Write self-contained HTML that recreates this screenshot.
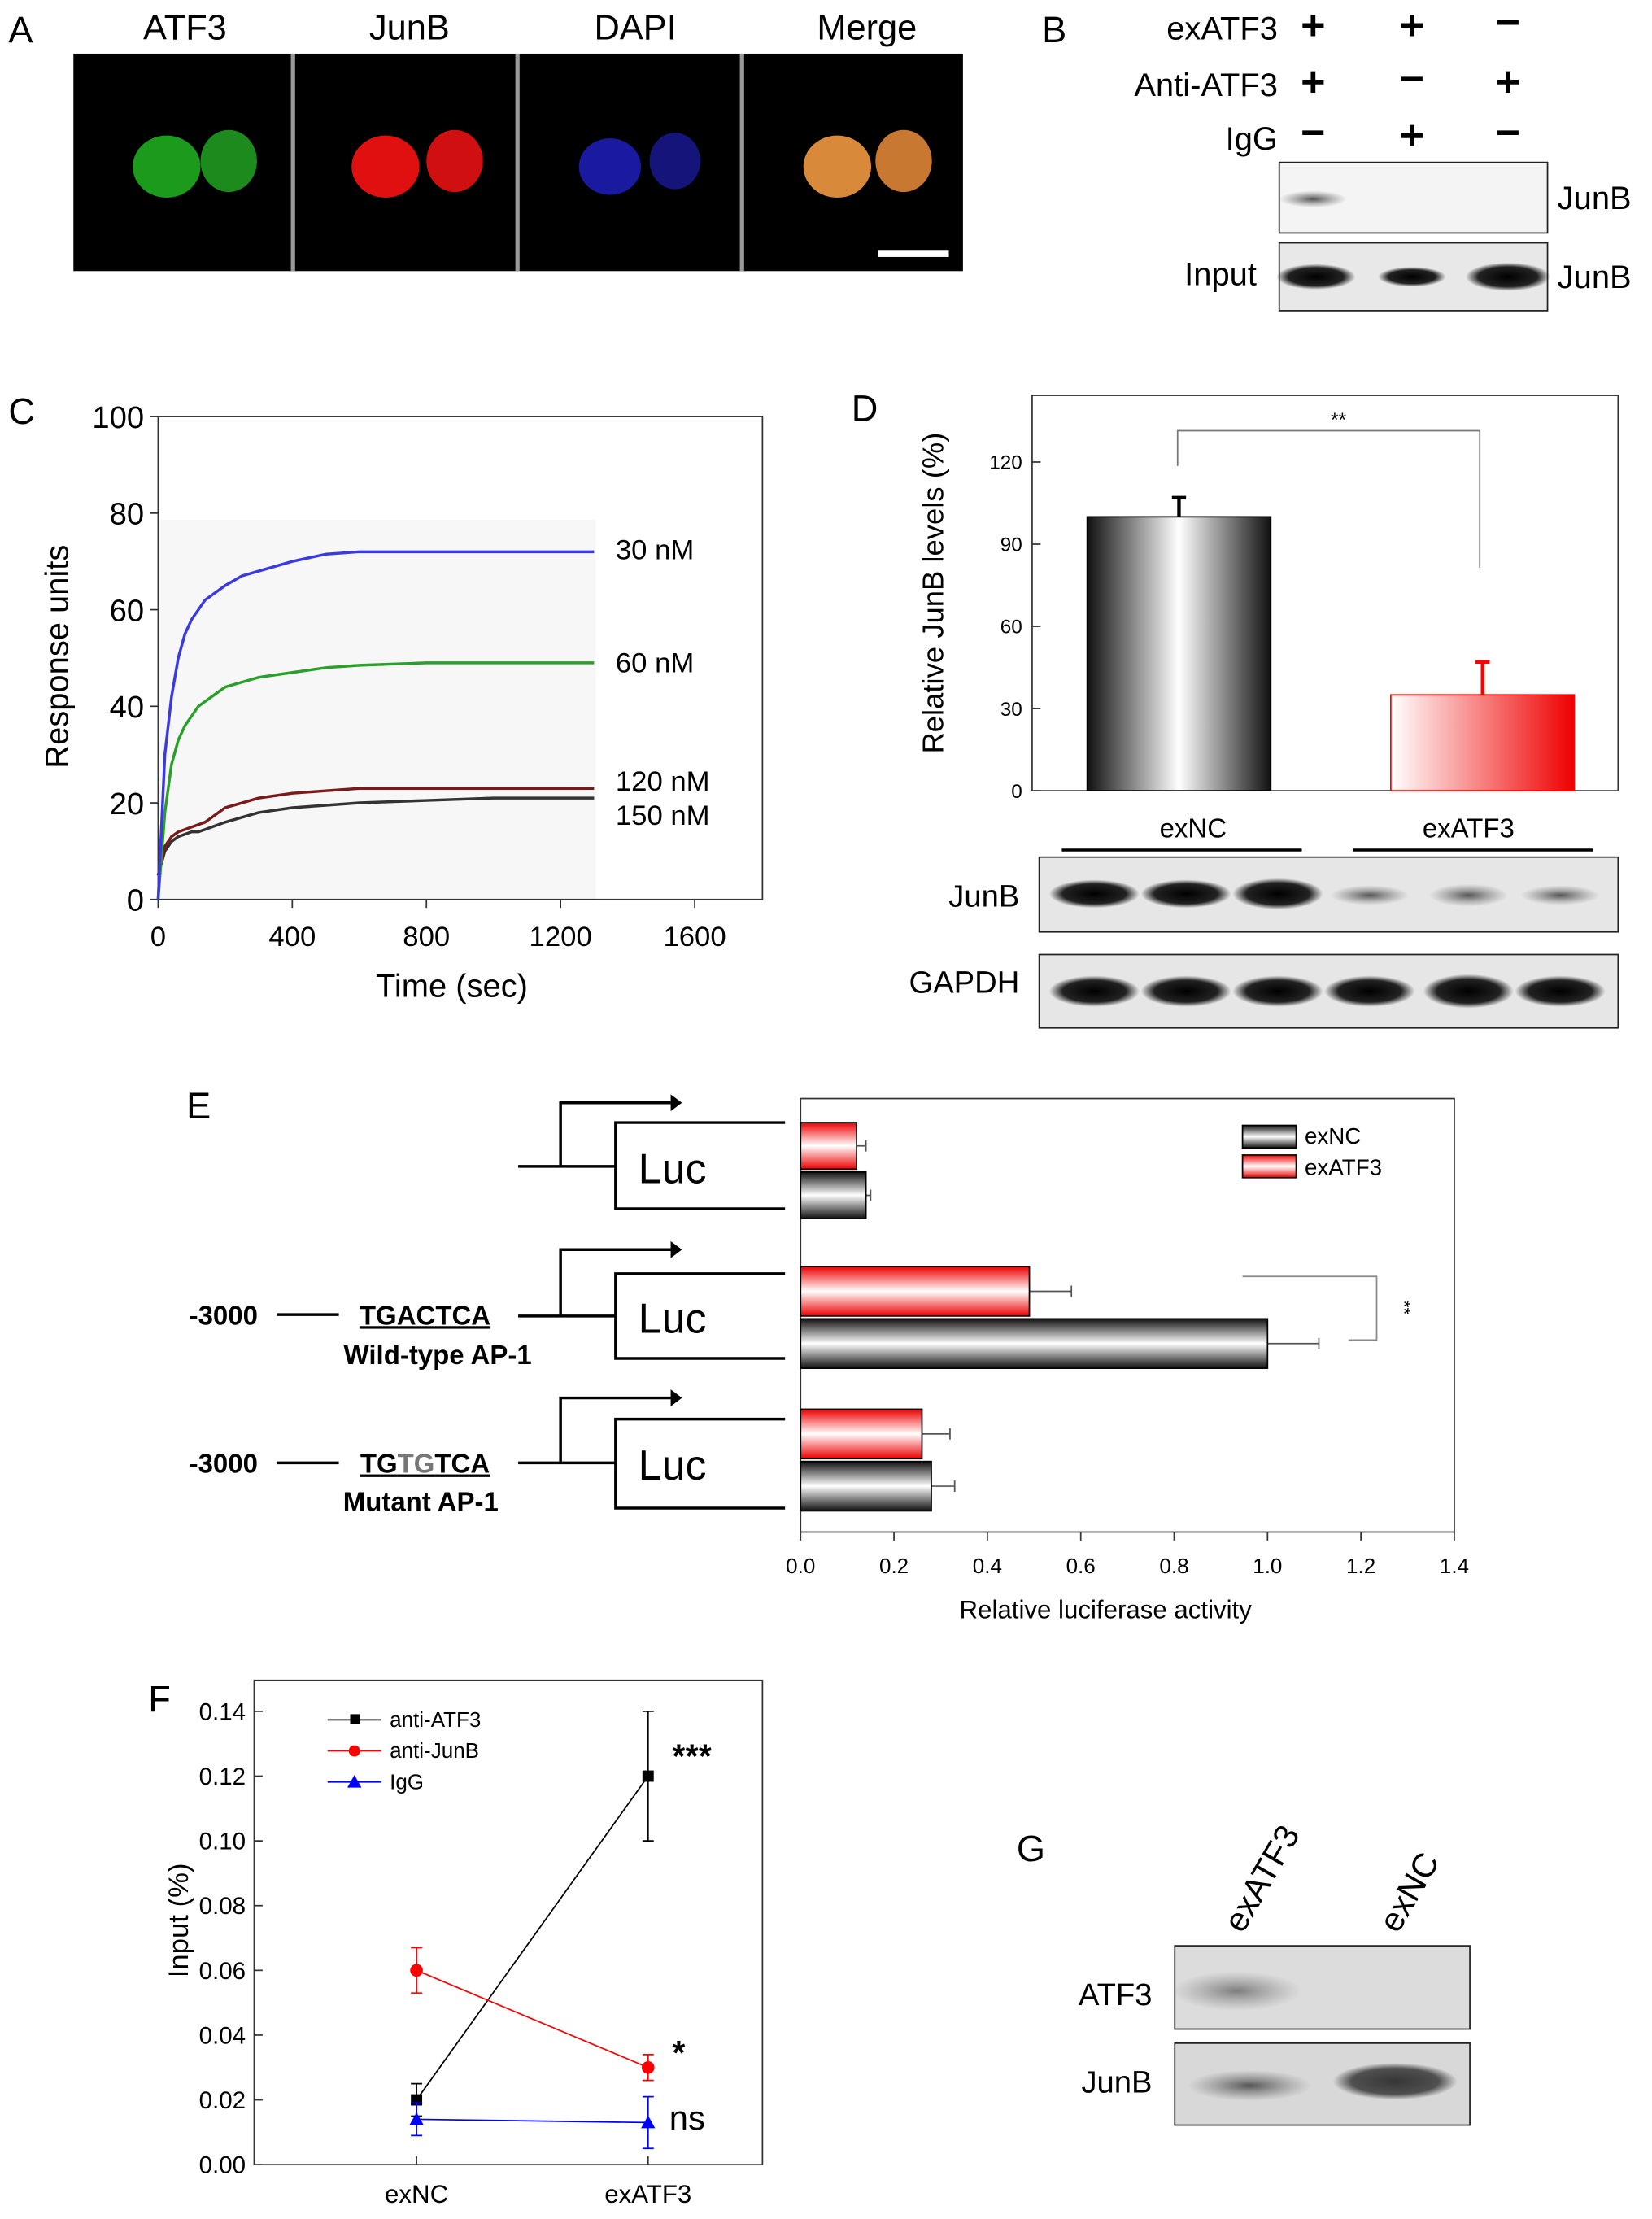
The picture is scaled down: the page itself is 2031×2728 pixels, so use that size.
<!DOCTYPE html>
<html><head><meta charset="utf-8"><style>
html,body{margin:0;padding:0;background:#fff}
svg{display:block;font-family:"Liberation Sans",sans-serif}
</style></head><body>
<svg id="fig" width="2031" height="2728" viewBox="0 0 1170 1571.5" preserveAspectRatio="none" xmlns="http://www.w3.org/2000/svg">
<defs>
<linearGradient id="gBlack" x1="0" x2="1" y1="0" y2="0"><stop offset="0" stop-color="#111"/><stop offset="0.5" stop-color="#fff"/><stop offset="1" stop-color="#111"/></linearGradient>
<linearGradient id="gRed" x1="0" x2="1" y1="0" y2="0"><stop offset="0" stop-color="#fff"/><stop offset="1" stop-color="#e00"/></linearGradient>
<linearGradient id="hBlack" x1="0" x2="0" y1="0" y2="1"><stop offset="0" stop-color="#111"/><stop offset="0.5" stop-color="#fff"/><stop offset="1" stop-color="#111"/></linearGradient>
<linearGradient id="hRed" x1="0" x2="0" y1="0" y2="1"><stop offset="0" stop-color="#e00"/><stop offset="0.5" stop-color="#fff"/><stop offset="1" stop-color="#e00"/></linearGradient>
<radialGradient id="band" cx="0.5" cy="0.5" r="0.5"><stop offset="0" stop-color="#000"/><stop offset="0.7" stop-color="#222"/><stop offset="1" stop-color="#222" stop-opacity="0"/></radialGradient>
<radialGradient id="bandL" cx="0.5" cy="0.5" r="0.5"><stop offset="0" stop-color="#555"/><stop offset="1" stop-color="#777" stop-opacity="0"/></radialGradient>
</defs>

<!-- Panel A -->
<g>
<text x="6" y="30" font-size="26">A</text>
<rect x="52" y="38" width="630" height="154" fill="#000"/>
<rect x="206" y="38" width="3" height="154" fill="#999"/><rect x="365" y="38" width="3" height="154" fill="#999"/><rect x="524" y="38" width="3" height="154" fill="#999"/>
<text x="131" y="28" font-size="25" text-anchor="middle">ATF3</text>
<text x="290" y="28" font-size="25" text-anchor="middle">JunB</text>
<text x="450" y="28" font-size="25" text-anchor="middle">DAPI</text>
<text x="614" y="28" font-size="25" text-anchor="middle">Merge</text>
<g><ellipse cx="118" cy="118" rx="24" ry="22" fill="#1c9a1c"/><ellipse cx="162" cy="114" rx="20" ry="22" fill="#1c8a1c"/></g>
<g><ellipse cx="273" cy="118" rx="24" ry="22" fill="#e01010"/><ellipse cx="322" cy="114" rx="20" ry="22" fill="#d01010"/></g>
<g><ellipse cx="432" cy="118" rx="22" ry="20" fill="#1a1aa0"/><ellipse cx="478" cy="114" rx="18" ry="20" fill="#14147a"/></g>
<g><ellipse cx="593" cy="118" rx="24" ry="22" fill="#d88a3a"/><ellipse cx="640" cy="114" rx="20" ry="22" fill="#c87830"/></g>
<rect x="622" y="177" width="50" height="5" fill="#fff"/>
</g>

<!-- Panel B -->
<g font-size="23">
<text x="738" y="30" font-size="26">B</text>
<text x="905" y="28" text-anchor="end">exATF3</text>
<text x="905" y="68" text-anchor="end">Anti-ATF3</text>
<text x="905" y="106" text-anchor="end">IgG</text>
<g font-size="30" font-weight="bold" text-anchor="middle">
<text x="930" y="28">+</text><text x="1000" y="28">+</text><text x="1068" y="26">−</text>
<text x="930" y="68">+</text><text x="1000" y="66">−</text><text x="1068" y="68">+</text>
<text x="930" y="104">−</text><text x="1000" y="106">+</text><text x="1068" y="104">−</text>
</g>
<rect x="906" y="115" width="190" height="50" fill="#f4f4f4" stroke="#222"/>
<ellipse cx="930" cy="141" rx="24" ry="6" fill="url(#bandL)"/>
<text x="1103" y="148">JunB</text>
<rect x="906" y="172" width="190" height="48" fill="#e8e8e8" stroke="#222"/>
<ellipse cx="932" cy="196" rx="28" ry="9" fill="url(#band)"/><ellipse cx="1000" cy="196" rx="24" ry="7" fill="url(#band)"/><ellipse cx="1068" cy="196" rx="30" ry="10" fill="url(#band)"/>
<text x="890" y="202" text-anchor="end">Input</text>
<text x="1103" y="204">JunB</text>
</g>

<!-- Panel C -->
<g id="panelC">
<text x="6" y="300" font-size="26">C</text>
<rect x="112" y="368" width="310" height="269" fill="#f7f7f7"/>
<rect x="112" y="295" width="428" height="342" fill="none" stroke="#333"/>
<text x="48" y="465" font-size="23" text-anchor="middle" transform="rotate(-90 48 465)">Response units</text>
<text x="320" y="706" font-size="23" text-anchor="middle">Time (sec)</text>
</g>

<!-- Panel D -->
<g id="panelD">
<text x="603" y="298" font-size="26">D</text>
<rect x="731" y="280" width="415" height="280" fill="none" stroke="#333"/>
<text x="668" y="420" font-size="21" text-anchor="middle" transform="rotate(-90 668 420)">Relative JunB levels (%)</text>
<path d="M834 330 V305 H1048 V402" fill="none" stroke="#777"/>
<text x="948" y="302" font-size="14" text-anchor="middle">**</text>
<text x="845" y="593" font-size="19" text-anchor="middle">exNC</text>
<text x="1040" y="593" font-size="19" text-anchor="middle">exATF3</text>
<line x1="752" y1="602" x2="922" y2="602" stroke="#000" stroke-width="2"/><line x1="958" y1="602" x2="1128" y2="602" stroke="#000" stroke-width="2"/>
<text x="722" y="642" font-size="22" text-anchor="end">JunB</text>
<text x="722" y="703" font-size="22" text-anchor="end">GAPDH</text>
<rect x="736" y="607" width="410" height="53" fill="#e6e6e6" stroke="#222"/>
<rect x="736" y="676" width="410" height="52" fill="#e6e6e6" stroke="#222"/>
<g><ellipse cx="775" cy="633" rx="32" ry="10" fill="url(#band)"/><ellipse cx="840" cy="633" rx="32" ry="10" fill="url(#band)"/><ellipse cx="905" cy="633" rx="32" ry="11" fill="url(#band)"/>
<ellipse cx="970" cy="634" rx="28" ry="7" fill="url(#bandL)"/><ellipse cx="1040" cy="634" rx="28" ry="8" fill="url(#bandL)"/><ellipse cx="1105" cy="634" rx="28" ry="7" fill="url(#bandL)"/>
<ellipse cx="775" cy="702" rx="32" ry="11" fill="url(#band)"/><ellipse cx="840" cy="702" rx="32" ry="11" fill="url(#band)"/><ellipse cx="905" cy="702" rx="32" ry="11" fill="url(#band)"/>
<ellipse cx="970" cy="702" rx="32" ry="11" fill="url(#band)"/><ellipse cx="1040" cy="702" rx="32" ry="12" fill="url(#band)"/><ellipse cx="1105" cy="702" rx="32" ry="11" fill="url(#band)"/></g>
</g>

<!-- Panel E -->
<g id="panelE">
<text x="132" y="792" font-size="26">E</text>
<rect x="567" y="778" width="463" height="307" fill="none" stroke="#333"/>
<text x="783" y="1146" font-size="18" text-anchor="middle">Relative luciferase activity</text>
<g fill="none" stroke="#000" stroke-width="2">
<path d="M367 826 H436"/><path d="M397 826 V781 H475"/><path d="M556 795 H436 V856 H556"/>
<path d="M367 932 H436"/><path d="M397 932 V885 H475"/><path d="M556 902 H436 V962 H556"/>
<path d="M367 1036 H436"/><path d="M397 1036 V990 H475"/><path d="M556 1005 H436 V1068 H556"/>
<path d="M196 931 H240"/><path d="M196 1036 H240"/>
</g>
<g fill="#000"><path d="M475 775 L483 781 L475 787Z"/><path d="M475 879 L483 885 L475 891Z"/><path d="M475 984 L483 990 L475 996Z"/></g>
<g font-size="30"><text x="452" y="838">Luc</text><text x="452" y="944">Luc</text><text x="452" y="1048">Luc</text></g>
<g font-size="19" font-weight="bold">
<text x="134" y="938">-3000</text><text x="134" y="1043">-3000</text>
<text x="301" y="938" text-anchor="middle" text-decoration="underline">TGACTCA</text>
<text x="310" y="966" text-anchor="middle">Wild-type AP-1</text>
<text x="301" y="1043" text-anchor="middle" text-decoration="underline">TG<tspan fill="#777">TG</tspan>TCA</text>
<text x="298" y="1070" text-anchor="middle">Mutant AP-1</text>
</g>
<path d="M880 904 H975 V949 H955" fill="none" stroke="#888"/>
<text x="990" y="926" font-size="13" transform="rotate(90 990 926)" text-anchor="middle">**</text>
<g font-size="16">
<rect x="880" y="797" width="38" height="16" fill="url(#hBlack)" stroke="#000"/><text x="924" y="810">exNC</text>
<rect x="880" y="818" width="38" height="16" fill="url(#hRed)" stroke="#000"/><text x="924" y="832">exATF3</text>
</g>
</g>

<!-- Panel F -->
<g id="panelF">
<text x="105" y="1212" font-size="26">F</text>
<rect x="180" y="1190" width="360" height="343" fill="none" stroke="#333"/>
<text x="133" y="1360" font-size="20" text-anchor="middle" transform="rotate(-90 133 1360)">Input (%)</text>
<g font-size="24"><text x="476" y="1252" font-weight="bold">***</text><text x="476" y="1462" font-weight="bold">*</text><text x="474" y="1508">ns</text></g>
<g font-size="15">
<line x1="232" y1="1218" x2="270" y2="1218" stroke="#000"/><rect x="248" y="1214" width="7" height="7"/><text x="276" y="1223">anti-ATF3</text>
<line x1="232" y1="1240" x2="270" y2="1240" stroke="red"/><circle cx="251" cy="1240" r="4" fill="red"/><text x="276" y="1245">anti-JunB</text>
<line x1="232" y1="1262" x2="270" y2="1262" stroke="blue"/><path d="M251 1257 L256 1266 L246 1266Z" fill="blue"/><text x="276" y="1267">IgG</text>
</g>
</g>

<!-- Panel G -->
<g>
<text x="720" y="1318" font-size="26">G</text>
<text x="880" y="1370" font-size="24" transform="rotate(-60 880 1370)">exATF3</text>
<text x="990" y="1370" font-size="24" transform="rotate(-60 990 1370)">exNC</text>
<rect x="832" y="1378" width="209" height="59" fill="#dcdcdc" stroke="#222"/>
<ellipse cx="876" cy="1410" rx="46" ry="14" fill="url(#bandL)" opacity="0.7"/>
<rect x="832" y="1447" width="209" height="58" fill="#d8d8d8" stroke="#222"/>
<ellipse cx="885" cy="1477" rx="44" ry="11" fill="url(#bandL)"/><ellipse cx="988" cy="1474" rx="44" ry="13" fill="url(#band)" opacity="0.75"/>
<text x="816" y="1420" font-size="22" text-anchor="end">ATF3</text>
<text x="816" y="1482" font-size="22" text-anchor="end">JunB</text>
</g>
</svg>
<script>
// ---- Panel C data ----
const cTimes=[0,20,40,60,80,100,120,140,160,200,250,300,400,500,600,800,1000,1200,1300];
const c30=[0,30,42,50,55,58,60,62,63,65,67,68,70,71.5,72,72,72,72,72];
const c60=[0,18,28,33,36,38,40,41,42,44,45,46,47,48,48.5,49,49,49,49];
const c120=[5,11,13,14,14.5,15,15.5,16,17,19,20,21,22,22.5,23,23,23,23,23];
const c150=[5,10,12,13,13.5,14,14,14.5,15,16,17,18,19,19.5,20,20.5,21,21,21];
const cLabels=["30 nM","60 nM","120 nM","150 nM"];
const cXTicks=[0,400,800,1200,1600];
const cYTicks=[0,20,40,60,80,100];
// ---- Panel D data ----
const dCats=["exNC","exATF3"];
const dVals=[100,35];
const dErr=[7,12];
const dYTicks=[0,30,60,90,120];
// ---- Panel E data ----
const eGroups=["Luc","Wild-type AP-1","Mutant AP-1"];
const eNC=[0.14,1.0,0.28];
const eNCErr=[0.01,0.11,0.05];
const eATF3=[0.12,0.49,0.26];
const eATF3Err=[0.02,0.09,0.06];
const eXTicks=[0,0.2,0.4,0.6,0.8,1.0,1.2,1.4];
// ---- Panel F data ----
const fCats=["exNC","exATF3"];
const fATF3=[0.02,0.12];
const fATF3Err=[0.005,0.02];
const fJunB=[0.06,0.03];
const fJunBErr=[0.007,0.004];
const fIgG=[0.014,0.013];
const fIgGErr=[0.005,0.008];
const fYTicks=[0,0.02,0.04,0.06,0.08,0.10,0.12,0.14];

const NS="http://www.w3.org/2000/svg";
function mk(parent,tag,attrs,txt){const e=document.createElementNS(NS,tag);for(const k in attrs)e.setAttribute(k,attrs[k]);if(txt!==undefined)e.textContent=txt;parent.appendChild(e);return e;}

// Panel C
(function(){
const g=document.getElementById('panelC');
const X=t=>112+t*0.2375, Y=v=>637-v*3.42;
cXTicks.forEach(t=>{mk(g,'line',{x1:X(t),x2:X(t),y1:637,y2:643,stroke:'#333'});
const l=mk(g,'text',{x:X(t),y:670,'font-size':20,'text-anchor':'middle'},String(t));

});
cYTicks.forEach(v=>{mk(g,'line',{x1:106,x2:112,y1:Y(v),y2:Y(v),stroke:'#333'});
const l=mk(g,'text',{x:102,y:Y(v)+8,'font-size':22,'text-anchor':'end'},String(v));

});
const series=[c150,c120,c60,c30], cols=['#333','#7a1a1a','#2aa02a','#3a3ae0'], labs=[cLabels[3],cLabels[2],cLabels[1],cLabels[0]], ly=[584,560,476,396];
series.forEach((s,i)=>{
const p=mk(g,'polyline',{points:s.map((v,j)=>X(cTimes[j])+','+Y(v)).join(' '),fill:'none',stroke:cols[i],'stroke-width':2});


const t=mk(g,'text',{x:436,y:ly[i],'font-size':20},labs[i]);


});
})();

// Panel D
(function(){
const g=document.getElementById('panelD');
const Y=v=>560-v*1.94, bx=[770,985], bw=130;
dYTicks.forEach(v=>{mk(g,'line',{x1:731,x2:737,y1:Y(v),y2:Y(v),stroke:'#333'});
const l=mk(g,'text',{x:724,y:Y(v)+5,'font-size':14,'text-anchor':'end'},String(v));

});
dVals.forEach((v,i)=>{
const c=i?'red':'#000';
const e=mk(g,'path',{d:`M${bx[i]+bw/2} ${Y(v)} V${Y(v+dErr[i])} M${bx[i]+bw/2-5} ${Y(v+dErr[i])} H${bx[i]+bw/2+5}`,stroke:c,'stroke-width':2.5,fill:'none'});


const r=mk(g,'rect',{x:bx[i],y:Y(v),width:bw,height:560-Y(v),fill:i?'url(#gRed)':'url(#gBlack)',stroke:c});


});
})();

// Panel E
(function(){
const g=document.getElementById('panelE');
const X=v=>567+v*330.7;
const redY=[795,897,998], blkY=[830,934,1035], h=[33,35,35];
eXTicks.forEach(v=>{mk(g,'line',{x1:X(v),x2:X(v),y1:1085,y2:1091,stroke:'#333'});
const l=mk(g,'text',{x:X(v),y:1114,'font-size':15,'text-anchor':'middle'},v.toFixed(1));

});
eGroups.forEach((n,i)=>{
[[eATF3,eATF3Err,redY,'url(#hRed)'],[eNC,eNCErr,blkY,'url(#hBlack)']].forEach(([vals,errs,ys,fill],k)=>{
const y=ys[i], hh=h[i], v=vals[i];
const e=mk(g,'path',{d:`M${X(v)} ${y+hh/2} H${X(v+errs[i])} M${X(v+errs[i])} ${y+hh/2-4} V${y+hh/2+4}`,stroke:'#555',fill:'none'});


const r=mk(g,'rect',{x:567,y:y,width:X(v)-567,height:hh,fill:fill,stroke:'#000'});


});
});
})();

// Panel F
(function(){
const g=document.getElementById('panelF');
const Y=v=>1533-v*2293, xs=[295,459];
fYTicks.forEach(v=>{mk(g,'line',{x1:180,x2:186,y1:Y(v),y2:Y(v),stroke:'#333'});
const l=mk(g,'text',{x:174,y:Y(v)+6,'font-size':17,'text-anchor':'end'},v.toFixed(2));

});
fCats.forEach((c,i)=>{mk(g,'line',{x1:xs[i],x2:xs[i],y1:1533,y2:1527,stroke:'#333'});
const l=mk(g,'text',{x:xs[i],y:1560,'font-size':18,'text-anchor':'middle'},c);

});
[[fATF3,fATF3Err,'#000','sq'],[fJunB,fJunBErr,'red','ci'],[fIgG,fIgGErr,'blue','tr']].forEach(([vals,errs,col,m],si)=>{
const ln=mk(g,'polyline',{points:vals.map((v,i)=>xs[i]+','+Y(v)).join(' '),fill:'none',stroke:col});


vals.forEach((v,i)=>{
mk(g,'path',{d:`M${xs[i]} ${Y(v-errs[i])} V${Y(v+errs[i])} M${xs[i]-4} ${Y(v-errs[i])} H${xs[i]+4} M${xs[i]-4} ${Y(v+errs[i])} H${xs[i]+4}`,stroke:col,fill:'none'});
let p;
if(m==='sq')p=mk(g,'rect',{x:xs[i]-4,y:Y(v)-4,width:8,height:8,fill:col});
else if(m==='ci')p=mk(g,'circle',{cx:xs[i],cy:Y(v),r:4.5,fill:col});
else p=mk(g,'path',{d:`M${xs[i]} ${Y(v)-5} L${xs[i]+5} ${Y(v)+4} L${xs[i]-5} ${Y(v)+4}Z`,fill:col});


});
});
})();
</script>
</body></html>
